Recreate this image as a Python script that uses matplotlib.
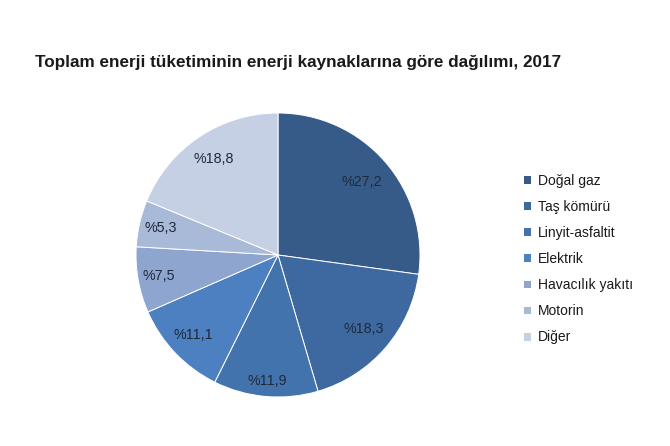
import numpy as np
import matplotlib.pyplot as plt

# energy sources and their shares (%) of total energy consumption, 2017
sources = ["Doğal gaz", "Taş kömürü", "Linyit-asfaltit", "Elektrik",
           "Havacılık yakıtı", "Motorin", "Diğer"]
shares = [27.2, 18.3, 11.9, 11.1, 7.5, 5.3, 18.8]
colors = ["#375b88", "#3e69a0", "#4373ad", "#4d80c0",
          "#8ea6cf", "#a9b9d8", "#c6d0e4"]
# how far out each percentage label sits (fraction of radius)
label_r = [0.78, 0.80, 0.89, 0.82, 0.85, 0.845, 0.81]

plt.rcParams["font.family"] = ["Liberation Sans", "DejaVu Sans"]

fig = plt.figure(figsize=(6.7, 4.46), dpi=100)
ax = fig.add_axes([(278 - 142)/670, 1 - (255 + 142)/446, 284/670, 284/446])

wedges, texts, autotexts = ax.pie(
    shares, colors=colors, startangle=90, counterclock=False,
    autopct="%1.1f",
    wedgeprops={"edgecolor": "white", "linewidth": 0.7},
    textprops={"fontsize": 10.3, "color": "#1f2a3c"})
# printed values (not normalised) and label positions
for w, t, v, r in zip(wedges, autotexts, shares, label_r):
    t.set_text("%" + f"{v:.1f}".replace(".", ","))
    ang = np.deg2rad((w.theta1 + w.theta2) / 2)
    t.set_position((r * np.cos(ang), r * np.sin(ang)))
ax.set_xlim(-1, 1)
ax.set_ylim(-1, 1)
ax.set_aspect("equal")

fig.text(35/670, 1 - 62/446, "Toplam enerji tüketiminin enerji kaynaklarına göre dağılımı, 2017",
         fontsize=12.3, fontweight="bold", color="#1a1a1a", va="center")

fig.legend(wedges, sources, loc="upper left", bbox_to_anchor=(510/670, 1 - 161/446),
           frameon=False, fontsize=10, handlelength=0.6, handleheight=0.6,
           handletextpad=0.5, labelspacing=0.87, labelcolor="#1a1a1a")

fig.savefig("out.png", dpi=100)
